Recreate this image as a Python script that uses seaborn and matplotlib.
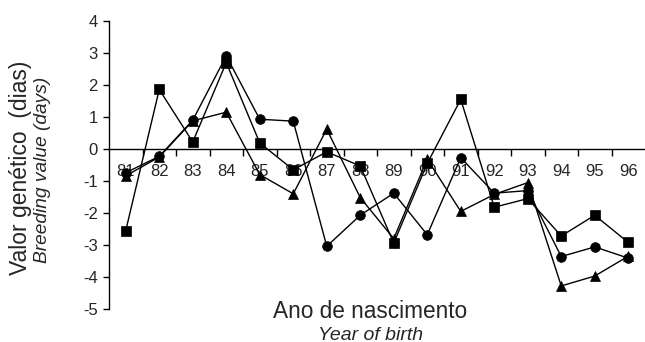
import pandas as pd
import seaborn as sns
import matplotlib.pyplot as plt

# Data
anos = list(range(81, 97))
quadrado = [-2.55, 1.86, 0.22, 2.70, 0.19, -0.65, -0.09, -0.53, -2.94, -0.45, 1.55, -1.82, -1.55, -2.72, -2.07, -2.92]
circulo = [-0.74, -0.23, 0.90, 2.91, 0.93, 0.87, -3.04, -2.07, -1.38, -2.68, -0.27, -1.38, -1.30, -3.36, -3.06, -3.41]
triangulo = [-0.84, -0.25, 0.88, 1.15, -0.80, -1.40, 0.62, -1.52, -2.80, -0.32, -1.95, -1.42, -1.05, -4.28, -3.97, -3.35]

sns.set_style('white')
plt.rcParams['font.family'] = ['Liberation Sans', 'DejaVu Sans']
plt.rcParams['axes.unicode_minus'] = False

fig = plt.figure(figsize=(6.45, 3.42), dpi=100)
ax = fig.add_axes([109 / 645, 1 - 309 / 342, 536 / 645, 288 / 342])

series = [(circulo, 'o', 7), (quadrado, 's', 7), (triangulo, '^', 7.5)]
for vals, mk, ms in series:
    sns.lineplot(x=anos, y=vals, ax=ax, color='black', marker=mk, markersize=ms,
                 markeredgecolor='black', markeredgewidth=0.5, linewidth=1.0,
                 zorder=3, legend=False)

# Axes styling
ax.set_xlim(80.5, 96.5)
ax.set_ylim(-5, 4)
ax.spines['top'].set_visible(False)
ax.spines['right'].set_visible(False)
ax.spines['bottom'].set_position(('data', 0))
ax.spines['left'].set_color('black')
ax.spines['bottom'].set_color('black')
ax.spines['left'].set_linewidth(1)
ax.spines['bottom'].set_linewidth(1)

ax.set_yticks(range(-5, 5))
ax.set_xticks(anos)
ax.set_xticklabels([str(a) for a in anos])
ax.set_xticks([a + 0.5 for a in anos[:-1]], minor=True)
ax.tick_params(axis='y', direction='out', length=4, width=1, color='black',
               labelsize=12, pad=4, left=True)
ax.tick_params(axis='x', which='major', length=0, labelsize=12, pad=11, bottom=True)
ax.tick_params(axis='x', which='minor', direction='out', length=5, width=1,
               color='black', bottom=True)
ax.set_xlabel('')
ax.set_ylabel('')

# Axis titles
fig.text(370 / 645, 1 - 311 / 342, 'Ano de nascimento', ha='center', va='center', fontsize=16.3)
fig.text(371 / 645, 1 - 335 / 342, 'Year of birth', ha='center', va='center',
         fontsize=14, style='italic')
fig.text(21 / 645, 1 - 168 / 342, 'Valor genético  (dias)', ha='center', va='center',
         rotation=90, fontsize=16.5)
fig.text(43 / 645, 1 - 170 / 342, 'Breeding value (days)', ha='center', va='center',
         rotation=90, fontsize=13.8, style='italic')

plt.savefig('out.png', dpi=100)
